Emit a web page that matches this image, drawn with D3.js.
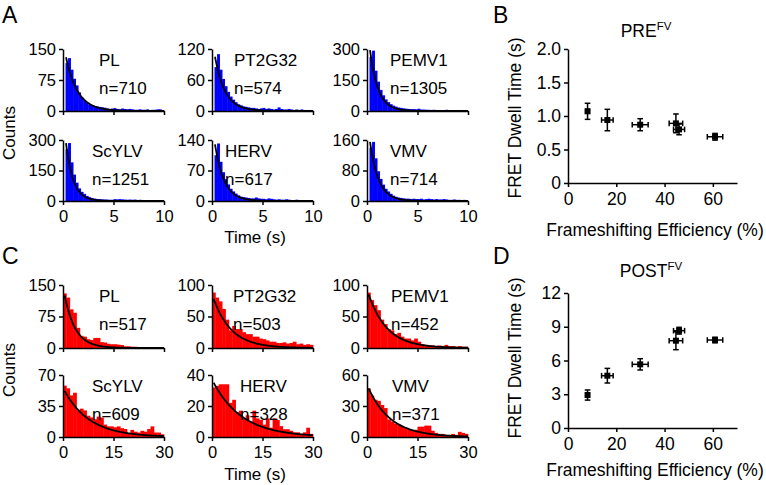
<!DOCTYPE html>
<html><head><meta charset="utf-8">
<script src="https://cdn.jsdelivr.net/npm/d3@7"></script>
<style>
body{margin:0;background:#fff}
svg{display:block}
text{font-family:"Liberation Sans",Arial,Helvetica,sans-serif;fill:#000}
</style>
</head><body>
<svg id="chart" width="766" height="485"></svg>
<script>
// ---------------- DATA ----------------
const constructs = ["PL","PT2G32","PEMV1","ScYLV","HERV","VMV"];

// Panel A (PRE, blue) – dwell-time histograms, 0.25 s bins from 0 to 10 s
const preN = [710, 574, 1305, 1251, 617, 714];
const preYMax = [150, 120, 300, 300, 140, 160];
const preCounts = [
  [0,116,128,100,78,62,45,32,26,20,15,13,12,11,10,9,8,6,5,6,7,5,4,6,5,4,5,4,3,3,4,3,3,4,2,3,3,4,4,2],
  [0,85,110,80,62,48,37,28,22,17,13,11,9,8,7,6,6,5,4,5,6,4,5,4,3,4,7,4,3,3,4,3,2,3,2,3,2,2,2,1],
  [0,262,292,195,142,102,76,56,43,33,26,21,17,15,13,11,10,9,9,8,11,7,7,6,6,5,6,5,5,4,4,6,4,3,4,3,3,4,3,2],
  [0,255,285,190,130,90,62,45,35,25,19,15,12,10,9,8,7,7,6,6,9,8,9,8,7,6,7,6,7,5,6,5,4,5,4,3,4,3,4,3],
  [0,105,132,90,66,50,38,28,22,17,13,10,9,8,7,6,6,8,6,5,5,4,6,5,4,3,4,3,3,4,3,2,2,3,2,2,2,1,2,1],
  [0,140,155,112,78,58,43,32,25,19,14,11,9,8,7,6,6,5,6,5,5,6,4,5,6,5,4,5,4,4,5,4,3,3,4,3,3,2,3,2]
];
const preFitStart = [130, 105, 295, 285, 130, 155];   // fit value at first time
const preFitTau   = [1.15, 1.0, 0.8, 0.72, 0.9, 0.85]; // fit time constant (s)
const preBinWidth = 0.25, preTMax = 10, preT0 = 0.3;
const preXTicks = [0, 5, 10];

// Panel C (POST, red) – dwell-time histograms, 1 s bins from 0 to 30 s
const postN = [517, 503, 452, 609, 328, 371];
const postYMax = [150, 100, 100, 70, 40, 60];
const postCounts = [
  [130,120,92,84,48,29,27,21,19,24,24,14,13,10,9,9,8,7,4,4,3,3,2,2,2,2,1,2,1,1],
  [88,80,74,62,45,28,35,30,30,25,22,22,18,18,15,14,12,10,10,8,8,9,7,8,10,6,7,5,6,5],
  [88,76,68,60,45,38,30,28,22,24,18,15,15,12,15,10,6,5,4,4,3,4,3,5,3,3,2,3,2,2],
  [58,55,47,50,30,32,30,24,22,20,23,22,14,12,12,11,12,10,9,4,8,6,5,7,6,9,12,5,5,3],
  [32,33,34,34,34,22,24,16,17,12,14,10,17,12,11,8,12,6,12,11,7,5,5,4,3,3,2,3,6,2],
  [47,40,36,35,31,28,17,15,13,12,10,9,7,6,7,10,10,11,11,6,4,3,3,2,2,3,2,5,4,3]
];
const postFitStart = [125, 78, 85, 52, 35, 47];
const postFitTau   = [3.2, 5.3, 5.5, 7.5, 8.6, 6.6];
const postBinWidth = 1, postTMax = 30, postT0 = 0.5;
const postXTicks = [0, 15, 30];

// Panels B and D – dwell time vs frameshifting efficiency
const fsEfficiency = [8.1, 16.3, 29.9, 44.7, 46.0, 60.9];
const fsEffErr     = [0.7, 2.4, 3.3, 2.8, 2.3, 3.2];
const preDwell     = [1.07, 0.94, 0.87, 0.89, 0.80, 0.69];
const preDwellErr  = [0.12, 0.16, 0.09, 0.14, 0.08, 0.05];
const postDwell    = [2.93, 4.65, 5.66, 7.76, 8.65, 7.82];
const postDwellErr = [0.45, 0.65, 0.5, 0.8, 0.3, 0.25];
const preYTicks = [0, 0.5, 1.0, 1.5, 2.0];
const postYTicks = [0, 3, 6, 9, 12];
const effXTicks = [0, 20, 40, 60];

// ---------------- LAYOUT ----------------
const svg = d3.select("#chart");
const colX = [63, 212, 367];
const plotW = 101;
const preRows = [[49, 111], [140, 201]];
const postRows = [[285, 348], [375, 437]];
const preLabelX = [99, 234, 390, 92, 225, 390];
const postLabelX = [99, 233, 391, 92, 240, 392];
const FONT = "16.5px";

function styleAxis(g) {
  g.selectAll("path.domain").attr("stroke", "#000").attr("stroke-width", 1.5);
  g.selectAll(".tick line").attr("stroke", "#000").attr("stroke-width", 1.5);
  g.selectAll(".tick text").attr("fill", "#000").style("font-size", FONT)
    .style("font-family", '"Liberation Sans",Arial,sans-serif');
}

function drawHist(i, rows, counts, binW, tMax, t0, yMax, fitY0, fitTau, color, n, labelX, xTicks) {
  const r = Math.floor(i / 3), c = i % 3;
  const [yTop, yBot] = rows[r];
  const x0 = colX[c];
  const x = d3.scaleLinear().domain([0, tMax]).range([x0, x0 + plotW]);
  const y = d3.scaleLinear().domain([0, yMax]).range([yBot, yTop]);
  const g = svg.append("g");
  const bins = counts.map((v, k) => ({ t: k * binW, v }));
  g.selectAll("rect").data(bins).join("rect")
    .attr("x", d => x(d.t))
    .attr("width", d => x(d.t + binW) - x(d.t) + 0.4)
    .attr("y", d => y(Math.min(d.v, yMax)))
    .attr("height", d => yBot - y(Math.min(d.v, yMax)))
    .attr("fill", color);
  // exponential fit curve
  const ts = d3.range(t0, tMax + 1e-9, (tMax - t0) / 200);
  const line = d3.line().x(t => x(t)).y(t => y(fitY0 * Math.exp(-(t - t0) / fitTau)));
  g.append("path").attr("d", line(ts)).attr("fill", "none")
    .attr("stroke", "#000").attr("stroke-width", 1.8);
  // axes
  const ya = g.append("g").attr("transform", `translate(${x0},0)`)
    .call(d3.axisLeft(y).tickValues([0, yMax / 2, yMax]).tickSize(4).tickSizeOuter(0).tickPadding(3).tickFormat(d3.format("d")));
  styleAxis(ya);
  const xa = g.append("g").attr("transform", `translate(0,${yBot})`)
    .call(d3.axisBottom(x).tickValues(xTicks).tickSize(4).tickSizeOuter(0).tickPadding(5)
      .tickFormat(r === 1 ? d3.format("d") : () => ""));
  styleAxis(xa);
  // labels
  g.append("text").attr("x", labelX).attr("y", yTop + 17).style("font-size", "17px").text(constructs[i]);
  g.append("text").attr("x", labelX).attr("y", yTop + 45).style("font-size", "17px").text("n=" + n);
}

constructs.forEach((name, i) => {
  drawHist(i, preRows, preCounts[i], preBinWidth, preTMax, preT0, preYMax[i],
    preFitStart[i], preFitTau[i], "#0000ff", preN[i], preLabelX[i], preXTicks);
  drawHist(i, postRows, postCounts[i], postBinWidth, postTMax, postT0, postYMax[i],
    postFitStart[i], postFitTau[i], "#ff0000", postN[i], postLabelX[i], postXTicks);
});

// axis titles for histograms
function rotText(x, y, txt, size) {
  svg.append("text").attr("transform", `translate(${x},${y}) rotate(-90)`)
    .attr("text-anchor", "middle").style("font-size", size).text(txt);
}
rotText(15, 133, "Counts", "17px");
rotText(15, 370, "Counts", "17px");
svg.append("text").attr("x", 255).attr("y", 243).attr("text-anchor", "middle").style("font-size", "17px").text("Time (s)");
svg.append("text").attr("x", 255).attr("y", 480).attr("text-anchor", "middle").style("font-size", "17px").text("Time (s)");

// panel letters
[["A", 2, 23], ["B", 493, 23], ["C", 2, 264], ["D", 493, 264]].forEach(([t, x, y]) => {
  svg.append("text").attr("x", x).attr("y", y).style("font-size", "23px").text(t);
});

// ---------------- SCATTER PANELS ----------------
function drawScatter(yTop, yBot, yMax, yTicks, vals, errs, fmt, title, titleX, titleY, xTitleY, yTitleY) {
  const x = d3.scaleLinear().domain([0, 70]).range([568, 737]);
  const y = d3.scaleLinear().domain([0, yMax]).range([yBot, yTop]);
  const g = svg.append("g");
  const ya = g.append("g").attr("transform", "translate(568,0)")
    .call(d3.axisLeft(y).tickValues(yTicks).tickSize(4).tickSizeOuter(0).tickPadding(3).tickFormat(fmt));
  styleAxis(ya);
  ya.selectAll(".tick text").style("font-size", "17.5px");
  const xa = g.append("g").attr("transform", `translate(0,${yBot})`)
    .call(d3.axisBottom(x).tickValues(effXTicks).tickSize(4).tickSizeOuter(0).tickPadding(6).tickFormat(d3.format("d")));
  styleAxis(xa);
  xa.selectAll(".tick text").style("font-size", "17.5px");

  const pts = fsEfficiency.map((e, k) => ({ x: e, xe: fsEffErr[k], y: vals[k], ye: errs[k] }));
  const cap = 2.8;
  const pg = g.selectAll("g.pt").data(pts).join("g").attr("class", "pt")
    .attr("stroke", "#000").attr("stroke-width", 1.5);
  pg.append("line").attr("x1", d => x(d.x)).attr("x2", d => x(d.x)).attr("y1", d => y(d.y - d.ye)).attr("y2", d => y(d.y + d.ye));
  pg.append("line").attr("x1", d => x(d.x) - cap).attr("x2", d => x(d.x) + cap).attr("y1", d => y(d.y - d.ye)).attr("y2", d => y(d.y - d.ye));
  pg.append("line").attr("x1", d => x(d.x) - cap).attr("x2", d => x(d.x) + cap).attr("y1", d => y(d.y + d.ye)).attr("y2", d => y(d.y + d.ye));
  pg.append("line").attr("x1", d => x(d.x - d.xe)).attr("x2", d => x(d.x + d.xe)).attr("y1", d => y(d.y)).attr("y2", d => y(d.y));
  pg.append("line").attr("x1", d => x(d.x - d.xe)).attr("x2", d => x(d.x - d.xe)).attr("y1", d => y(d.y) - cap).attr("y2", d => y(d.y) + cap);
  pg.append("line").attr("x1", d => x(d.x + d.xe)).attr("x2", d => x(d.x + d.xe)).attr("y1", d => y(d.y) - cap).attr("y2", d => y(d.y) + cap);
  pg.append("rect").attr("x", d => x(d.x) - 3).attr("y", d => y(d.y) - 3).attr("width", 6).attr("height", 6)
    .attr("fill", "#000").attr("stroke", "none");

  const t = g.append("text").attr("x", titleX).attr("y", titleY).attr("text-anchor", "middle").style("font-size", "17.5px");
  t.append("tspan").text(title);
  t.append("tspan").attr("dy", -7).style("font-size", "11.5px").text("FV");

  g.append("text").attr("x", 655).attr("y", xTitleY).attr("text-anchor", "middle").style("font-size", "17.5px")
    .text("Frameshifting Efficiency (%)");
  g.append("text").attr("transform", `translate(521,${yTitleY}) rotate(-90)`).attr("text-anchor", "middle")
    .style("font-size", "17.5px").text("FRET Dwell Time (s)");
}
drawScatter(49, 183, 2.0, preYTicks, preDwell, preDwellErr,
  d => d === 0 ? "0" : d3.format(".1f")(d), "PRE", 646, 37, 236, 118);
drawScatter(293, 428, 12, postYTicks, postDwell, postDwellErr,
  d3.format("d"), "POST", 651, 277, 476, 358);
</script>
</body></html>
